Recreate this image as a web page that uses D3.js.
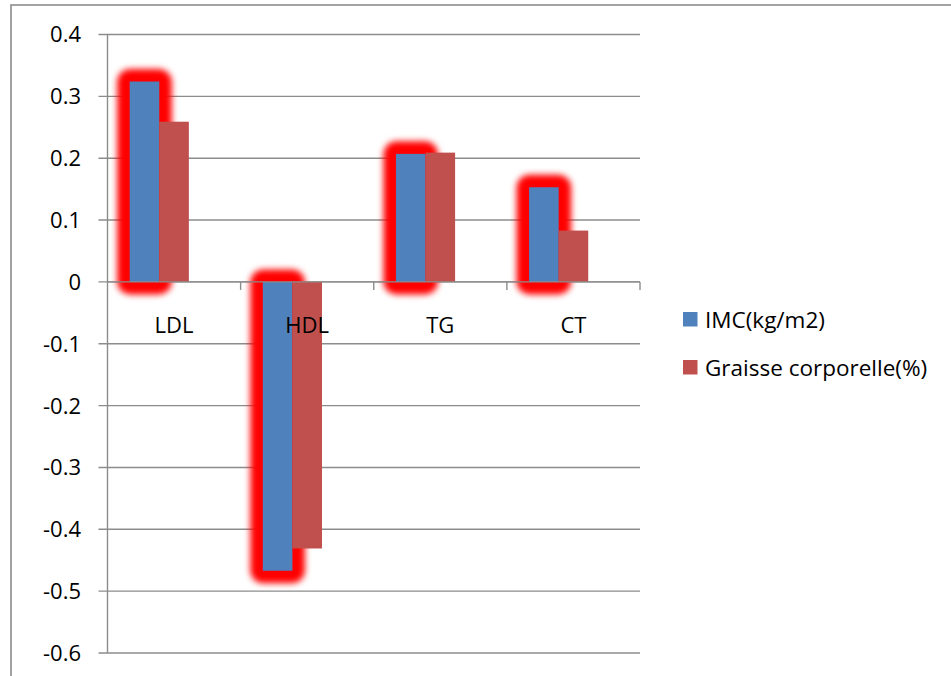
<!DOCTYPE html>
<html>
<head>
<meta charset="utf-8">
<script src="https://cdn.jsdelivr.net/npm/d3@7/dist/d3.min.js"></script>
<style>
  html, body { margin: 0; padding: 0; background: #fff; }
  svg { display: block; font-family: "Open Sans", Lato, sans-serif; }
</style>
</head>
<body>
<svg id="chart" width="951" height="676"></svg>
<script>
// Correlation coefficients per lipid marker
const categories = ["LDL", "HDL", "TG", "CT"];
const seriesNames = ["IMC(kg/m2)", "Graisse corporelle(%)"];
const imcValues = [0.324, -0.467, 0.207, 0.153];
const graisseValues = [0.259, -0.431, 0.209, 0.083];
const yTicks = [0.4, 0.3, 0.2, 0.1, 0, -0.1, -0.2, -0.3, -0.4, -0.5, -0.6];
const seriesColors = ["#4F81BD", "#C0504D"];

const series = [imcValues, graisseValues];

const svg = d3.select("#chart");
const plot = { left: 107.5, right: 640, top: 34.5, bottom: 653 };

// Outer frame
svg.append("rect")
  .attr("x", 11).attr("y", 5).attr("width", 980).attr("height", 720)
  .attr("fill", "none").attr("stroke", "#8c8c8c").attr("stroke-width", 1.6);

const y = d3.scaleLinear().domain([-0.6, 0.4]).range([plot.bottom, plot.top]);
const x0 = d3.scaleBand().domain(categories).range([plot.left, plot.right]).padding(0);
// three slots per cluster (third left empty), gap of 1.5 bar widths
const slotW = x0.bandwidth() / 4.5;
const x1 = d3.scaleBand().domain([0, 1, 2])
  .range([slotW * 0.75, x0.bandwidth() - slotW * 0.75]).padding(0);

const gridColor = "#8c8c8c";
const tickFormat = d3.formatLocale({ decimal: ".", thousands: ",", grouping: [3], currency: ["", ""], minus: "-" })
  .format(".1~f");

// Gridlines with left tick marks
svg.append("g").selectAll("line").data(yTicks).join("line")
  .attr("x1", plot.left - 9).attr("x2", plot.right)
  .attr("y1", d => y(d)).attr("y2", d => y(d))
  .attr("stroke", gridColor).attr("stroke-width", 1.4);

// Y tick labels
svg.append("g").selectAll("text").data(yTicks).join("text")
  .attr("x", 81).attr("y", d => y(d))
  .attr("dy", "0.36em")
  .attr("text-anchor", "end")
  .attr("font-size", 22).attr("fill", "#000")
  .text(d => tickFormat(d));

// Glow effect around the first series bars
const defs = svg.append("defs");
defs.append("filter").attr("id", "glow")
  .attr("x", "-50%").attr("y", "-20%").attr("width", "200%").attr("height", "140%")
  .append("feGaussianBlur").attr("stdDeviation", 3.2);

const glowPad = 12.5;
svg.append("g").attr("filter", "url(#glow)")
  .selectAll("rect").data(imcValues).join("rect")
  .attr("x", (d, i) => x0(categories[i]) + x1(0) - glowPad)
  .attr("y", d => Math.min(y(d), y(0)) - glowPad)
  .attr("width", x1.bandwidth() + glowPad * 2)
  .attr("height", d => Math.abs(y(d) - y(0)) + glowPad * 2)
  .attr("rx", 13).attr("ry", 13)
  .attr("fill", "#ff0000");

// Bars
series.forEach((vals, s) => {
  svg.append("g").selectAll("rect").data(vals).join("rect")
    .attr("x", (d, i) => x0(categories[i]) + x1(s))
    .attr("y", d => Math.min(y(d), y(0)))
    .attr("width", x1.bandwidth())
    .attr("height", d => Math.abs(y(d) - y(0)))
    .attr("fill", seriesColors[s]);
});

// Vertical axis line
svg.append("line")
  .attr("x1", plot.left).attr("x2", plot.left)
  .attr("y1", plot.top).attr("y2", plot.bottom)
  .attr("stroke", gridColor).attr("stroke-width", 1.4);

// Horizontal axis at zero with category tick marks
svg.append("line")
  .attr("x1", plot.left).attr("x2", plot.right)
  .attr("y1", y(0)).attr("y2", y(0))
  .attr("stroke", gridColor).attr("stroke-width", 1.4);
const boundaries = categories.map(c => x0(c) + x0.bandwidth());
svg.append("g").selectAll("line").data(boundaries).join("line")
  .attr("x1", d => d).attr("x2", d => d)
  .attr("y1", y(0)).attr("y2", y(0) + 8)
  .attr("stroke", gridColor).attr("stroke-width", 1.4);

// Category labels
svg.append("g").selectAll("text").data(categories).join("text")
  .attr("x", d => x0(d) + x0.bandwidth() / 2)
  .attr("y", 333)
  .attr("text-anchor", "middle")
  .attr("font-size", 22).attr("fill", "#000")
  .text(d => d);

// Legend
const legend = svg.append("g");
seriesNames.forEach((name, i) => {
  const ly = 319 + i * 48;
  legend.append("rect")
    .attr("x", 683).attr("y", ly - 7).attr("width", 14.5).attr("height", 14.5)
    .attr("fill", seriesColors[i]);
  legend.append("text")
    .attr("x", 705).attr("y", ly + 9)
    .attr("font-size", 22.5).attr("fill", "#000")
    .text(name);
});
</script>
</body>
</html>
